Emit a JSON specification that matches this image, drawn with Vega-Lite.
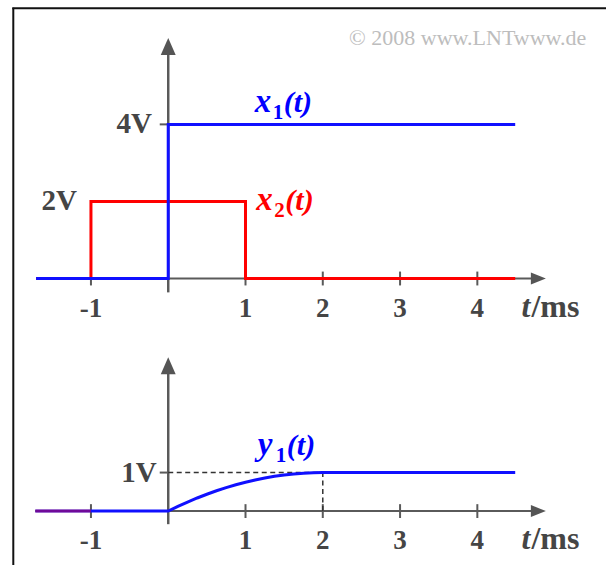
{
  "$schema": "https://vega.github.io/schema/vega-lite/v6.json",
  "width": 607,
  "height": 566,
  "autosize": {"type": "fit", "contains": "padding"},
  "padding": 0,
  "background": "white",
  "config": {"view": {"stroke": null}, "text": {"font": "Liberation Serif"}},
  "datasets": {
    "x1": [{"t": -1.71, "v": 0}, {"t": 0, "v": 4}, {"t": 4.49, "v": 4}],
    "x2": [{"t": -1.71, "v": 0}, {"t": -1, "v": 2}, {"t": 1, "v": 0}, {"t": 4.49, "v": 0}],
    "y1": [
      {"t": -1.72, "v": 0}, {"t": 0, "v": 0}, {"t": 0.125, "v": 0.121}, {"t": 0.25, "v": 0.234},
      {"t": 0.375, "v": 0.34}, {"t": 0.5, "v": 0.4375}, {"t": 0.625, "v": 0.527}, {"t": 0.75, "v": 0.609},
      {"t": 0.875, "v": 0.684}, {"t": 1.0, "v": 0.75}, {"t": 1.125, "v": 0.809}, {"t": 1.25, "v": 0.859},
      {"t": 1.375, "v": 0.902}, {"t": 1.5, "v": 0.9375}, {"t": 1.625, "v": 0.965}, {"t": 1.75, "v": 0.984},
      {"t": 1.875, "v": 0.996}, {"t": 2.0, "v": 1.0}, {"t": 4.49, "v": 1.0}
    ],
    "y2": [{"t": -1.72, "v": 0}, {"t": -1, "v": 0}],
    "ticks": [{"t": -1, "lab": "-1"}, {"t": 1, "lab": "1"}, {"t": 2, "lab": "2"}, {"t": 3, "lab": "3"}, {"t": 4, "lab": "4"}],
    "levelsTop": [{"t": -0.21, "v": 4, "lab": "4V"}, {"t": -1.18, "v": 2, "lab": "2V"}],
    "levelsBottom": [{"t": -0.15, "v": 1, "lab": "1V"}],
    "namesTop": [{"t": 1.12, "v": 4.33, "s": "x1", "name": "x", "sub": "1"}, {"t": 1.14, "v": 1.79, "s": "x2", "name": "x", "sub": "2"}],
    "namesBottom": [{"t": 1.16, "v": 1.45, "s": "y1", "name": "y", "sub": "1"}]
  },
  "layer": [
    {
      "layer": [
        {
          "data": {"values": [{}]},
          "mark": {"type": "rule", "color": "#111111", "strokeWidth": 2},
          "encoding": {
            "x": {"datum": -2.005, "type": "quantitative", "scale": {"domain": [-2.177, 5.665], "nice": false, "zero": false}, "axis": null},
            "y": {"datum": 7.03, "type": "quantitative", "scale": {"domain": [-7.435, 7.228], "nice": false, "zero": false}, "axis": null},
            "y2": {"datum": -7.435}
          }
        },
        {
          "data": {"values": [{}]},
          "mark": {"type": "rule", "color": "#111111", "strokeWidth": 2},
          "encoding": {
            "x": {"datum": -2.018, "type": "quantitative", "scale": {"domain": [-2.177, 5.665], "nice": false, "zero": false}, "axis": null},
            "x2": {"datum": 5.665},
            "y": {"datum": 7.016, "type": "quantitative", "scale": {"domain": [-7.435, 7.228], "nice": false, "zero": false}, "axis": null}
          }
        },
        {
          "data": {"values": [{}]},
          "mark": {"type": "text", "text": "© 2008 www.LNTwww.de", "fontSize": 22, "color": "#bdbdbd", "align": "right", "baseline": "alphabetic"},
          "encoding": {
            "x": {"datum": 5.41, "type": "quantitative", "scale": {"domain": [-2.177, 5.665], "nice": false, "zero": false}, "axis": null},
            "y": {"datum": 6.06, "type": "quantitative", "scale": {"domain": [-7.435, 7.228], "nice": false, "zero": false}, "axis": null}
          }
        },
        {
          "data": {"values": [{}]},
          "mark": {"type": "rule", "color": "#5a5a5a", "strokeWidth": 2},
          "encoding": {
            "x": {"datum": -1.71, "type": "quantitative", "scale": {"domain": [-2.177, 5.665], "nice": false, "zero": false}, "axis": null},
            "x2": {"datum": 4.79},
            "y": {"datum": 0, "type": "quantitative", "scale": {"domain": [-7.435, 7.228], "nice": false, "zero": false}, "axis": null}
          }
        },
        {
          "data": {"values": [{}]},
          "mark": {"type": "rule", "color": "#5a5a5a", "strokeWidth": 2.5},
          "encoding": {
            "x": {"datum": 0, "type": "quantitative", "scale": {"domain": [-2.177, 5.665], "nice": false, "zero": false}, "axis": null},
            "y": {"datum": -0.36, "type": "quantitative", "scale": {"domain": [-7.435, 7.228], "nice": false, "zero": false}, "axis": null},
            "y2": {"datum": 6.02}
          }
        },
        {
          "data": {"values": [{}]},
          "mark": {"type": "point", "shape": "M-0.88,1L0,-1L0.88,1Z", "size": 289, "filled": true, "opacity": 1, "color": "#555555"},
          "encoding": {
            "x": {"datum": 0, "type": "quantitative", "scale": {"domain": [-2.177, 5.665], "nice": false, "zero": false}, "axis": null},
            "y": {"datum": 6.02, "type": "quantitative", "scale": {"domain": [-7.435, 7.228], "nice": false, "zero": false}, "axis": null}
          }
        },
        {
          "data": {"values": [{}]},
          "mark": {"type": "point", "shape": "M-1,-0.8L1,0L-1,0.8Z", "size": 225, "filled": true, "opacity": 1, "color": "#555555"},
          "encoding": {
            "x": {"datum": 4.79, "type": "quantitative", "scale": {"domain": [-2.177, 5.665], "nice": false, "zero": false}, "axis": null},
            "y": {"datum": 0, "type": "quantitative", "scale": {"domain": [-7.435, 7.228], "nice": false, "zero": false}, "axis": null}
          }
        },
        {
          "data": {"name": "ticks"},
          "mark": {"type": "rule", "color": "#5a5a5a", "strokeWidth": 2},
          "encoding": {
            "x": {"field": "t", "type": "quantitative", "scale": {"domain": [-2.177, 5.665], "nice": false, "zero": false}, "axis": null},
            "y": {"datum": -0.18, "type": "quantitative", "scale": {"domain": [-7.435, 7.228], "nice": false, "zero": false}, "axis": null},
            "y2": {"datum": 0.18}
          }
        },
        {
          "data": {"name": "ticks"},
          "mark": {"type": "text", "fontSize": 27, "fontWeight": "bold", "color": "#454545", "align": "center", "baseline": "alphabetic", "dy": 38},
          "encoding": {
            "x": {"field": "t", "type": "quantitative", "scale": {"domain": [-2.177, 5.665], "nice": false, "zero": false}, "axis": null},
            "y": {"datum": 0, "type": "quantitative", "scale": {"domain": [-7.435, 7.228], "nice": false, "zero": false}, "axis": null},
            "text": {"field": "lab"}
          }
        },
        {
          "data": {"values": [{}]},
          "mark": {"type": "text", "text": "t", "fontSize": 32, "fontWeight": "bold", "fontStyle": "italic", "color": "#454545", "align": "left", "baseline": "alphabetic", "dy": 38},
          "encoding": {
            "x": {"datum": 4.57, "type": "quantitative", "scale": {"domain": [-2.177, 5.665], "nice": false, "zero": false}, "axis": null},
            "y": {"datum": 0, "type": "quantitative", "scale": {"domain": [-7.435, 7.228], "nice": false, "zero": false}, "axis": null}
          }
        },
        {
          "data": {"values": [{}]},
          "mark": {"type": "text", "text": "/ms", "fontSize": 32, "fontWeight": "bold", "color": "#454545", "align": "left", "baseline": "alphabetic", "dy": 38, "dx": 10},
          "encoding": {
            "x": {"datum": 4.57, "type": "quantitative", "scale": {"domain": [-2.177, 5.665], "nice": false, "zero": false}, "axis": null},
            "y": {"datum": 0, "type": "quantitative", "scale": {"domain": [-7.435, 7.228], "nice": false, "zero": false}, "axis": null}
          }
        },
        {
          "data": {"values": [{}]},
          "mark": {"type": "rule", "color": "#5a5a5a", "strokeWidth": 2},
          "encoding": {
            "x": {"datum": -0.11, "type": "quantitative", "scale": {"domain": [-2.177, 5.665], "nice": false, "zero": false}, "axis": null},
            "x2": {"datum": 0},
            "y": {"datum": 4, "type": "quantitative", "scale": {"domain": [-7.435, 7.228], "nice": false, "zero": false}, "axis": null}
          }
        },
        {
          "data": {"name": "levelsTop"},
          "mark": {"type": "text", "fontSize": 29, "fontWeight": "bold", "color": "#454545", "align": "right", "baseline": "middle"},
          "encoding": {
            "x": {"field": "t", "type": "quantitative", "scale": {"domain": [-2.177, 5.665], "nice": false, "zero": false}, "axis": null},
            "y": {"field": "v", "type": "quantitative", "scale": {"domain": [-7.435, 7.228], "nice": false, "zero": false}, "axis": null},
            "text": {"field": "lab"}
          }
        },
        {
          "data": {"name": "x2"},
          "mark": {"type": "line", "color": "#ff0000", "strokeWidth": 3, "interpolate": "step-after"},
          "encoding": {
            "x": {"field": "t", "type": "quantitative", "scale": {"domain": [-2.177, 5.665], "nice": false, "zero": false}, "axis": null},
            "y": {"field": "v", "type": "quantitative", "scale": {"domain": [-7.435, 7.228], "nice": false, "zero": false}, "axis": null}
          }
        },
        {
          "data": {"name": "x1"},
          "mark": {"type": "line", "color": "#1010ff", "strokeWidth": 3, "interpolate": "step-after"},
          "encoding": {
            "x": {"field": "t", "type": "quantitative", "scale": {"domain": [-2.177, 5.665], "nice": false, "zero": false}, "axis": null},
            "y": {"field": "v", "type": "quantitative", "scale": {"domain": [-7.435, 7.228], "nice": false, "zero": false}, "axis": null}
          }
        },
        {
          "data": {"name": "namesTop"},
          "mark": {"type": "text", "fontSize": 33, "fontWeight": "bold", "fontStyle": "italic", "align": "left", "baseline": "alphabetic"},
          "encoding": {
            "x": {"field": "t", "type": "quantitative", "scale": {"domain": [-2.177, 5.665], "nice": false, "zero": false}, "axis": null},
            "y": {"field": "v", "type": "quantitative", "scale": {"domain": [-7.435, 7.228], "nice": false, "zero": false}, "axis": null},
            "text": {"field": "name"},
            "color": {"field": "s", "type": "nominal", "scale": {"domain": ["x1", "x2", "y1"], "range": ["#0000ff", "#ff0000", "#0000ff"]}, "legend": null}
          }
        },
        {
          "data": {"name": "namesTop"},
          "mark": {"type": "text", "fontSize": 21, "fontWeight": "bold", "align": "left", "baseline": "alphabetic", "dx": 18, "dy": 7},
          "encoding": {
            "x": {"field": "t", "type": "quantitative", "scale": {"domain": [-2.177, 5.665], "nice": false, "zero": false}, "axis": null},
            "y": {"field": "v", "type": "quantitative", "scale": {"domain": [-7.435, 7.228], "nice": false, "zero": false}, "axis": null},
            "text": {"field": "sub"},
            "color": {"field": "s", "type": "nominal", "scale": {"domain": ["x1", "x2", "y1"], "range": ["#0000ff", "#ff0000", "#0000ff"]}, "legend": null}
          }
        },
        {
          "data": {"name": "namesTop"},
          "mark": {"type": "text", "text": "(t)", "fontSize": 30, "fontWeight": "bold", "fontStyle": "italic", "align": "left", "baseline": "alphabetic", "dx": 29},
          "encoding": {
            "x": {"field": "t", "type": "quantitative", "scale": {"domain": [-2.177, 5.665], "nice": false, "zero": false}, "axis": null},
            "y": {"field": "v", "type": "quantitative", "scale": {"domain": [-7.435, 7.228], "nice": false, "zero": false}, "axis": null},
            "color": {"field": "s", "type": "nominal", "scale": {"domain": ["x1", "x2", "y1"], "range": ["#0000ff", "#ff0000", "#0000ff"]}, "legend": null}
          }
        }
      ]
    },
    {
      "layer": [
        {
          "data": {"values": [{}]},
          "mark": {"type": "rule", "color": "#5a5a5a", "strokeWidth": 2},
          "encoding": {
            "x": {"datum": -1.72, "type": "quantitative", "scale": {"domain": [-2.177, 5.665], "nice": false, "zero": false}, "axis": null},
            "x2": {"datum": 4.79},
            "y": {"datum": 0, "type": "quantitative", "scale": {"domain": [-1.399, 13.264], "nice": false, "zero": false}, "axis": null}
          }
        },
        {
          "data": {"values": [{}]},
          "mark": {"type": "rule", "color": "#5a5a5a", "strokeWidth": 2.5},
          "encoding": {
            "x": {"datum": 0, "type": "quantitative", "scale": {"domain": [-2.177, 5.665], "nice": false, "zero": false}, "axis": null},
            "y": {"datum": -0.34, "type": "quantitative", "scale": {"domain": [-1.399, 13.264], "nice": false, "zero": false}, "axis": null},
            "y2": {"datum": 3.77}
          }
        },
        {
          "data": {"values": [{}]},
          "mark": {"type": "point", "shape": "M-0.88,1L0,-1L0.88,1Z", "size": 289, "filled": true, "opacity": 1, "color": "#555555"},
          "encoding": {
            "x": {"datum": 0, "type": "quantitative", "scale": {"domain": [-2.177, 5.665], "nice": false, "zero": false}, "axis": null},
            "y": {"datum": 3.77, "type": "quantitative", "scale": {"domain": [-1.399, 13.264], "nice": false, "zero": false}, "axis": null}
          }
        },
        {
          "data": {"values": [{}]},
          "mark": {"type": "point", "shape": "M-1,-0.8L1,0L-1,0.8Z", "size": 225, "filled": true, "opacity": 1, "color": "#555555"},
          "encoding": {
            "x": {"datum": 4.79, "type": "quantitative", "scale": {"domain": [-2.177, 5.665], "nice": false, "zero": false}, "axis": null},
            "y": {"datum": 0, "type": "quantitative", "scale": {"domain": [-1.399, 13.264], "nice": false, "zero": false}, "axis": null}
          }
        },
        {
          "data": {"name": "ticks"},
          "mark": {"type": "rule", "color": "#5a5a5a", "strokeWidth": 2},
          "encoding": {
            "x": {"field": "t", "type": "quantitative", "scale": {"domain": [-2.177, 5.665], "nice": false, "zero": false}, "axis": null},
            "y": {"datum": -0.18, "type": "quantitative", "scale": {"domain": [-1.399, 13.264], "nice": false, "zero": false}, "axis": null},
            "y2": {"datum": 0.18}
          }
        },
        {
          "data": {"name": "ticks"},
          "mark": {"type": "text", "fontSize": 27, "fontWeight": "bold", "color": "#454545", "align": "center", "baseline": "alphabetic", "dy": 38},
          "encoding": {
            "x": {"field": "t", "type": "quantitative", "scale": {"domain": [-2.177, 5.665], "nice": false, "zero": false}, "axis": null},
            "y": {"datum": 0, "type": "quantitative", "scale": {"domain": [-1.399, 13.264], "nice": false, "zero": false}, "axis": null},
            "text": {"field": "lab"}
          }
        },
        {
          "data": {"values": [{}]},
          "mark": {"type": "text", "text": "t", "fontSize": 32, "fontWeight": "bold", "fontStyle": "italic", "color": "#454545", "align": "left", "baseline": "alphabetic", "dy": 38},
          "encoding": {
            "x": {"datum": 4.57, "type": "quantitative", "scale": {"domain": [-2.177, 5.665], "nice": false, "zero": false}, "axis": null},
            "y": {"datum": 0, "type": "quantitative", "scale": {"domain": [-1.399, 13.264], "nice": false, "zero": false}, "axis": null}
          }
        },
        {
          "data": {"values": [{}]},
          "mark": {"type": "text", "text": "/ms", "fontSize": 32, "fontWeight": "bold", "color": "#454545", "align": "left", "baseline": "alphabetic", "dy": 38, "dx": 10},
          "encoding": {
            "x": {"datum": 4.57, "type": "quantitative", "scale": {"domain": [-2.177, 5.665], "nice": false, "zero": false}, "axis": null},
            "y": {"datum": 0, "type": "quantitative", "scale": {"domain": [-1.399, 13.264], "nice": false, "zero": false}, "axis": null}
          }
        },
        {
          "data": {"values": [{}]},
          "mark": {"type": "rule", "color": "#5a5a5a", "strokeWidth": 2},
          "encoding": {
            "x": {"datum": -0.11, "type": "quantitative", "scale": {"domain": [-2.177, 5.665], "nice": false, "zero": false}, "axis": null},
            "x2": {"datum": 0},
            "y": {"datum": 1, "type": "quantitative", "scale": {"domain": [-1.399, 13.264], "nice": false, "zero": false}, "axis": null}
          }
        },
        {
          "data": {"values": [{}]},
          "mark": {"type": "rule", "color": "#333333", "strokeWidth": 1.5, "strokeDash": [5, 3.5]},
          "encoding": {
            "x": {"datum": 0, "type": "quantitative", "scale": {"domain": [-2.177, 5.665], "nice": false, "zero": false}, "axis": null},
            "x2": {"datum": 2},
            "y": {"datum": 1, "type": "quantitative", "scale": {"domain": [-1.399, 13.264], "nice": false, "zero": false}, "axis": null}
          }
        },
        {
          "data": {"values": [{}]},
          "mark": {"type": "rule", "color": "#333333", "strokeWidth": 1.5, "strokeDash": [5, 3.5]},
          "encoding": {
            "x": {"datum": 2, "type": "quantitative", "scale": {"domain": [-2.177, 5.665], "nice": false, "zero": false}, "axis": null},
            "y": {"datum": 0, "type": "quantitative", "scale": {"domain": [-1.399, 13.264], "nice": false, "zero": false}, "axis": null},
            "y2": {"datum": 1}
          }
        },
        {
          "data": {"name": "levelsBottom"},
          "mark": {"type": "text", "fontSize": 29, "fontWeight": "bold", "color": "#454545", "align": "right", "baseline": "middle"},
          "encoding": {
            "x": {"field": "t", "type": "quantitative", "scale": {"domain": [-2.177, 5.665], "nice": false, "zero": false}, "axis": null},
            "y": {"field": "v", "type": "quantitative", "scale": {"domain": [-1.399, 13.264], "nice": false, "zero": false}, "axis": null},
            "text": {"field": "lab"}
          }
        },
        {
          "data": {"name": "y1"},
          "mark": {"type": "line", "color": "#1010ff", "strokeWidth": 3},
          "encoding": {
            "x": {"field": "t", "type": "quantitative", "scale": {"domain": [-2.177, 5.665], "nice": false, "zero": false}, "axis": null},
            "y": {"field": "v", "type": "quantitative", "scale": {"domain": [-1.399, 13.264], "nice": false, "zero": false}, "axis": null}
          }
        },
        {
          "data": {"name": "y2"},
          "mark": {"type": "line", "color": "#ff0000", "strokeWidth": 3, "opacity": 0.4},
          "encoding": {
            "x": {"field": "t", "type": "quantitative", "scale": {"domain": [-2.177, 5.665], "nice": false, "zero": false}, "axis": null},
            "y": {"field": "v", "type": "quantitative", "scale": {"domain": [-1.399, 13.264], "nice": false, "zero": false}, "axis": null}
          }
        },
        {
          "data": {"name": "namesBottom"},
          "mark": {"type": "text", "fontSize": 33, "fontWeight": "bold", "fontStyle": "italic", "align": "left", "baseline": "alphabetic", "color": "#0000ff"},
          "encoding": {
            "x": {"field": "t", "type": "quantitative", "scale": {"domain": [-2.177, 5.665], "nice": false, "zero": false}, "axis": null},
            "y": {"field": "v", "type": "quantitative", "scale": {"domain": [-1.399, 13.264], "nice": false, "zero": false}, "axis": null},
            "text": {"field": "name"}
          }
        },
        {
          "data": {"name": "namesBottom"},
          "mark": {"type": "text", "fontSize": 21, "fontWeight": "bold", "align": "left", "baseline": "alphabetic", "dx": 18, "dy": 7, "color": "#0000ff"},
          "encoding": {
            "x": {"field": "t", "type": "quantitative", "scale": {"domain": [-2.177, 5.665], "nice": false, "zero": false}, "axis": null},
            "y": {"field": "v", "type": "quantitative", "scale": {"domain": [-1.399, 13.264], "nice": false, "zero": false}, "axis": null},
            "text": {"field": "sub"}
          }
        },
        {
          "data": {"name": "namesBottom"},
          "mark": {"type": "text", "text": "(t)", "fontSize": 30, "fontWeight": "bold", "fontStyle": "italic", "align": "left", "baseline": "alphabetic", "dx": 29, "color": "#0000ff"},
          "encoding": {
            "x": {"field": "t", "type": "quantitative", "scale": {"domain": [-2.177, 5.665], "nice": false, "zero": false}, "axis": null},
            "y": {"field": "v", "type": "quantitative", "scale": {"domain": [-1.399, 13.264], "nice": false, "zero": false}, "axis": null}
          }
        }
      ]
    }
  ],
  "resolve": {"scale": {"y": "independent"}}
}
